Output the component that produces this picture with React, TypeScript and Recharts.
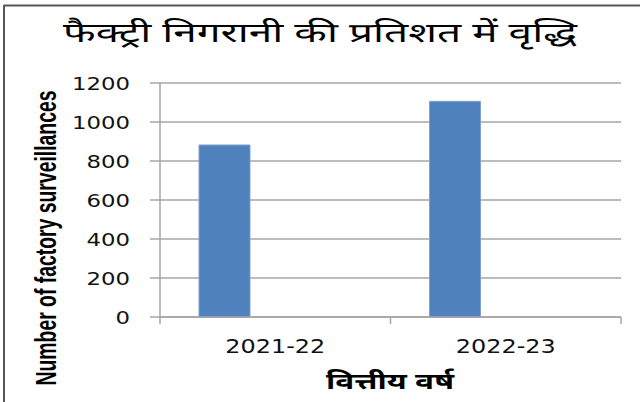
import React from "react";
import { BarChart, Bar, XAxis, YAxis, CartesianGrid } from "recharts";

const categories = ["2021-22", "2022-23"];
const surveillances = [882, 1106];
const yTicks = [0, 200, 400, 600, 800, 1000, 1200];
const titleText = "फैक्ट्री निगरानी की प्रतिशत में वृद्धि";
const xLabelText = "वित्तीय वर्ष";
const yLabelText = "Number of factory surveillances";

const data = categories.map((c, i) => ({ name: c, value: surveillances[i], s2: null, s3: null }));

const GRID = "#a6a6a6";
const TEXT = "#111111";

const YTick = (props: any) => {
  const { x, y, payload } = props;
  const s = String(payload.value);
  return (
    <text x={x} y={y} dy={6.5} textAnchor="end" fontFamily="DejaVu Sans, sans-serif" fontSize={17.5} fill={TEXT}
      textLength={s.length * 14.5} lengthAdjust="spacingAndGlyphs">
      {s}
    </text>
  );
};

const XTick = (props: any) => {
  const { x, y, payload, index } = props;
  const off = payload.offset ?? 0;
  const s = String(payload.value);
  return (
    <g>
      <line x1={x - off} x2={x - off} y1={y - 8} y2={y - 1} stroke={GRID} strokeWidth={1.5} />
      {index === categories.length - 1 && (
        <line x1={x + off} x2={x + off} y1={y - 8} y2={y - 1} stroke={GRID} strokeWidth={1.5} />
      )}
      <text x={x} y={y + 28} textAnchor="middle" fontFamily="DejaVu Sans, sans-serif" fontSize={20} fill={TEXT}
        textLength={100} lengthAdjust="spacingAndGlyphs">
        {s}
      </text>
    </g>
  );
};

export default function App() {
  return (
    <div style={{ position: "fixed", left: 0, top: 0, width: 640, height: 402, background: "#fff" }}>
      <BarChart width={640} height={402} data={data} margin={{ top: 83, right: 19, bottom: 0, left: 0 }}
        barCategoryGap={39} barGap={0}>
        <CartesianGrid vertical={false} stroke={GRID} strokeWidth={1.5} />
        <YAxis width={160} domain={[0, 1200]} ticks={yTicks} interval={0} tickSize={10} tickMargin={20}
          axisLine={{ stroke: GRID, strokeWidth: 1.5 }} tickLine={{ stroke: GRID, strokeWidth: 1.5 }} tick={<YTick />} />
        <XAxis dataKey="name" height={85} axisLine={{ stroke: GRID, strokeWidth: 1.5 }} tickLine={false}
          tickSize={8} tickMargin={0} tick={<XTick />} interval={0} />
        <Bar dataKey="value" fill="#4f81bd" stroke="#7ea1d1" strokeWidth={1} isAnimationActive={false} />
        <Bar dataKey="s2" fill="#c0504d" isAnimationActive={false} />
        <Bar dataKey="s3" fill="#9bbb59" isAnimationActive={false} />
      </BarChart>
      <svg width={640} height={402} style={{ position: "absolute", left: 0, top: 0, pointerEvents: "none" }}>
        <line x1={4} x2={640} y1={5.5} y2={5.5} stroke="#555" strokeWidth={2} />
        <line x1={4} x2={4} y1={5} y2={402} stroke="#555" strokeWidth={2} />
        <text x={320} y={42} textAnchor="middle" fontSize={27} fill="#000"
          fontFamily="'Noto Sans Devanagari', Mangal, 'Noto Sans', sans-serif"
          textLength={514} lengthAdjust="spacingAndGlyphs">
          {titleText}
        </text>
        <text x={390} y={389} textAnchor="middle" fontSize={23} fontWeight="bold" fill="#000"
          fontFamily="'Noto Sans Devanagari', Mangal, 'Noto Sans', sans-serif"
          textLength={128} lengthAdjust="spacingAndGlyphs">
          {xLabelText}
        </text>
        <text transform="translate(56,238) rotate(-90) scale(1,1.35)" x={0} y={0} textAnchor="middle" fontSize={22}
          fontWeight="bold" fill="#000" fontFamily="'Liberation Sans', Arial, sans-serif"
          textLength={295} lengthAdjust="spacingAndGlyphs">
          {yLabelText}
        </text>
      </svg>
    </div>
  );
}
